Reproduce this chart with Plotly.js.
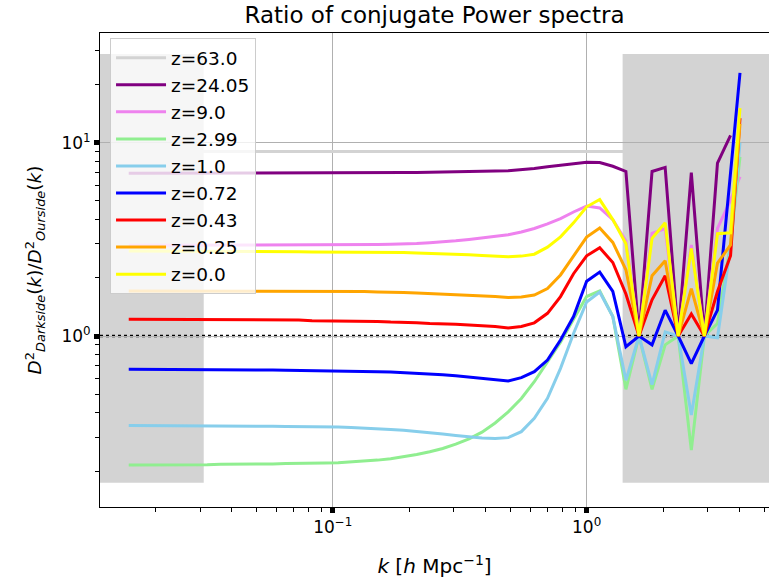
<!DOCTYPE html>
<html>
<head>
<meta charset="utf-8">
<script src="https://cdn.plot.ly/plotly-3.0.1.min.js"></script>
<style>html,body{margin:0;padding:0;background:#fff;}#chart{width:769px;height:582px;}</style>
</head>
<body>
<div id="chart"></div>
<script>
// wavenumbers k [h/Mpc]
const k = [0.0157,0.0177,0.0199,0.0224,0.0253,0.0284,0.0320,0.0361,0.0406,0.0457,0.0515,0.0580,0.0653,0.0735,0.0828,0.0932,0.105,0.118,0.133,0.150,0.169,0.190,0.214,0.241,0.271,0.305,0.344,0.387,0.436,0.491,0.553,0.622,0.701,0.789,0.888,1.000,1.126,1.268,1.428,1.608,1.810,2.039,2.295,2.585,2.910,3.277,3.690,4.02];

const labels = ["z=63.0","z=24.05","z=9.0","z=2.99","z=1.0","z=0.72","z=0.43","z=0.25","z=0.0"];
const colors = ["#d3d3d3","#800080","#ee82ee","#90ee90","#87ceeb","#0000ff","#ff0000","#ffa500","#ffff00"];

const z63 = [9.0,9.0,9.0,9.0,9.0,9.0,9.0,9.0,9.0,9.0,9.0,9.0,9.0,9.0,9.0,9.0,9.0,9.0,9.0,9.0,9.0,9.0,9.0,9.0,9.0,9.0,9.0,9.0,9.0,9.0,9.0,9.0,9.0,9.0,9.0,9.0,9.0,9.0,9.0,9.0,9.0,9.0,9.0,9.0,9.0,9.0,9.0,null];
const z2405 = [6.95,6.95,6.95,6.95,6.95,6.95,6.95,6.95,6.95,6.95,6.95,6.95,6.96,6.96,6.97,6.97,6.98,6.98,6.99,7.00,7.00,7.01,7.02,7.03,7.04,7.06,7.08,7.10,7.13,7.17,7.25,7.36,7.50,7.66,7.82,7.93,7.90,7.55,7.10,1.0,7.10,7.45,1.0,7.00,1.0,7.85,10.9,null];
const z9 = [2.95,2.95,2.95,2.95,2.95,2.95,2.95,2.95,2.95,2.95,2.95,2.95,2.95,2.95,2.95,2.95,2.95,2.95,2.96,2.97,2.98,2.99,3.01,3.04,3.07,3.11,3.16,3.21,3.27,3.34,3.45,3.60,3.80,4.05,4.38,4.70,4.60,4.00,3.10,1.0,3.40,3.60,1.0,2.96,1.0,3.60,5.05,6.67];
const z299 = [0.215,0.215,0.215,0.215,0.216,0.216,0.216,0.217,0.217,0.218,0.218,0.218,0.219,0.219,0.220,0.220,0.221,0.223,0.225,0.228,0.232,0.237,0.244,0.252,0.262,0.276,0.294,0.318,0.355,0.405,0.475,0.58,0.73,0.93,1.22,1.60,1.71,1.26,0.53,1.0,0.53,0.90,1.0,0.257,1.0,1.16,3.0,8.45];
const z1 = [0.344,0.344,0.344,0.344,0.343,0.343,0.343,0.342,0.342,0.342,0.341,0.341,0.340,0.340,0.339,0.339,0.338,0.336,0.334,0.331,0.328,0.325,0.321,0.316,0.311,0.306,0.301,0.297,0.295,0.298,0.320,0.375,0.476,0.68,1.03,1.50,1.69,1.26,0.59,1.0,0.56,1.05,1.0,0.39,1.0,0.98,2.9,10.0];
const z072 = [0.672,0.672,0.671,0.671,0.670,0.670,0.669,0.669,0.668,0.668,0.667,0.667,0.666,0.665,0.664,0.662,0.661,0.659,0.657,0.654,0.651,0.647,0.643,0.637,0.630,0.622,0.613,0.604,0.595,0.585,0.609,0.654,0.751,0.953,1.26,1.92,2.14,1.70,0.88,1.0,0.90,1.36,1.0,0.72,1.0,1.36,7.0,23.0];
const z043 = [1.22,1.22,1.22,1.22,1.22,1.22,1.22,1.21,1.21,1.21,1.21,1.21,1.21,1.21,1.20,1.20,1.20,1.20,1.19,1.19,1.18,1.18,1.17,1.16,1.16,1.15,1.14,1.13,1.12,1.10,1.12,1.17,1.31,1.60,2.10,2.60,2.86,2.40,1.65,1.0,1.54,2.05,1.0,1.30,1.0,1.70,2.60,13.4];
const z025 = [1.71,1.71,1.71,1.71,1.71,1.71,1.71,1.71,1.71,1.71,1.71,1.71,1.71,1.70,1.70,1.70,1.70,1.70,1.70,1.69,1.69,1.68,1.67,1.66,1.65,1.64,1.63,1.62,1.60,1.58,1.59,1.63,1.76,2.07,2.60,3.25,3.62,3.05,2.20,1.0,2.05,2.45,1.0,1.76,1.0,2.38,2.96,12.5];
const z0 = [2.75,2.75,2.75,2.75,2.75,2.74,2.74,2.74,2.74,2.74,2.73,2.73,2.73,2.73,2.72,2.72,2.72,2.72,2.71,2.71,2.70,2.70,2.69,2.68,2.67,2.65,2.63,2.61,2.59,2.57,2.59,2.65,2.88,3.26,3.85,4.66,5.08,4.00,3.00,1.0,3.20,3.85,1.0,2.84,1.0,3.38,3.42,15.1];

const series = [z63,z2405,z9,z299,z1,z072,z043,z025,z0];

// tick labels
const xTickVals = [0.1, 1];
const xTickText = ["10<sup>\u22121</sup>", "10<sup>0</sup>"];
const yTickVals = [1, 10];
const yTickText = ["10<sup>0</sup>", "10<sup>1</sup>"];
const xMinor = [0.02,0.03,0.04,0.05,0.06,0.07,0.08,0.09,0.2,0.3,0.4,0.5,0.6,0.7,0.8,0.9,2,3,4,5];
const yMinor = [0.2,0.3,0.4,0.5,0.6,0.7,0.8,0.9,2,3,4,5,6,7,8,9,20,30];

// shaded excluded regions (k edges) and their vertical extent
const xRange = [-1.9173, 0.7185];
const leftBandK = 0.031;
const rightBandK = 1.386;
const bandY = {y0: 0.174, y1: 28.8};

function kToPaper(kv) { return (Math.log10(kv) - xRange[0]) / (xRange[1] - xRange[0]); }

const FONT = "DejaVu Sans, sans-serif";

const traces = series.map((s, i) => ({
  x: k, y: s, type: "scatter", mode: "lines", name: labels[i],
  line: {color: colors[i], width: 3},
  connectgaps: false
}));

const layout = {
  width: 769, height: 582,
  margin: {l: 100, r: 0, t: 33, b: 75, pad: 0},
  paper_bgcolor: "#ffffff", plot_bgcolor: "#ffffff",
  font: {family: FONT, color: "#000", size: 16},
  title: {text: "Ratio of conjugate Power spectra", font: {family: FONT, size: 23, color: "#000"},
          x: 0.5, xref: "paper", xanchor: "center", y: 0.974, yref: "container", yanchor: "middle"},
  showlegend: true,
  legend: {x: 0.015, y: 0.989, xanchor: "left", yanchor: "top",
           bgcolor: "rgba(255,255,255,0.8)", bordercolor: "#cccccc", borderwidth: 1,
           itemwidth: 50,
           font: {family: FONT, size: 18.5, color: "#000"}, traceorder: "normal"},
  xaxis: {
    type: "log", range: xRange, autorange: false,
    tickmode: "array", tickvals: xTickVals, ticktext: xTickText,
    ticks: "outside", ticklen: 5, tickwidth: 5, tickcolor: "#000",
    showgrid: true, gridcolor: "#b0b0b0", gridwidth: 1,
    showline: true, linecolor: "#000", linewidth: 1, mirror: true,
    tickfont: {family: FONT, size: 17, color: "#000"},
    minor: {tickmode: "array", tickvals: xMinor, ticks: "outside", ticklen: 4, tickwidth: 1, tickcolor: "#000", showgrid: false},
    title: {text: "<i>k</i> [<i>h</i> Mpc<sup>\u22121</sup>]", font: {family: FONT, size: 20, color: "#000"}, standoff: 22},
    zeroline: false
  },
  yaxis: {
    type: "log", range: [-0.8846, 1.5675], autorange: false,
    tickmode: "array", tickvals: yTickVals, ticktext: yTickText,
    ticks: "outside", ticklen: 5, tickwidth: 5, tickcolor: "#000",
    showgrid: true, gridcolor: "#b0b0b0", gridwidth: 1,
    showline: true, linecolor: "#000", linewidth: 1, mirror: false,
    tickfont: {family: FONT, size: 17, color: "#000"},
    minor: {tickmode: "array", tickvals: yMinor, ticks: "outside", ticklen: 4, tickwidth: 1, tickcolor: "#000", showgrid: false},
    title: {text: "<i>D</i><sup>2</sup><sub><i>Darkside</i></sub>(<i>k</i>)/<i>D</i><sup>2</sup><sub><i>Ourside</i></sub>(<i>k</i>)", font: {family: FONT, size: 18.5, color: "#000"}, standoff: 14},
    zeroline: false
  },
  shapes: [
    {type: "rect", xref: "paper", yref: "y", x0: 0, x1: kToPaper(leftBandK), y0: bandY.y0, y1: bandY.y1,
     fillcolor: "#d3d3d3", line: {width: 0}, layer: "below"},
    {type: "rect", xref: "paper", yref: "y", x0: kToPaper(rightBandK), x1: 1, y0: bandY.y0, y1: bandY.y1,
     fillcolor: "#d3d3d3", line: {width: 0}, layer: "below"},
    {type: "line", xref: "paper", yref: "y", x0: 0, x1: 1, y0: 1, y1: 1,
     line: {color: "#000", width: 2.5, dash: "dot"}, layer: "between"}
  ]
};

Plotly.newPlot("chart", traces, layout, {displayModeBar: false, staticPlot: true});
</script>
</body>
</html>
